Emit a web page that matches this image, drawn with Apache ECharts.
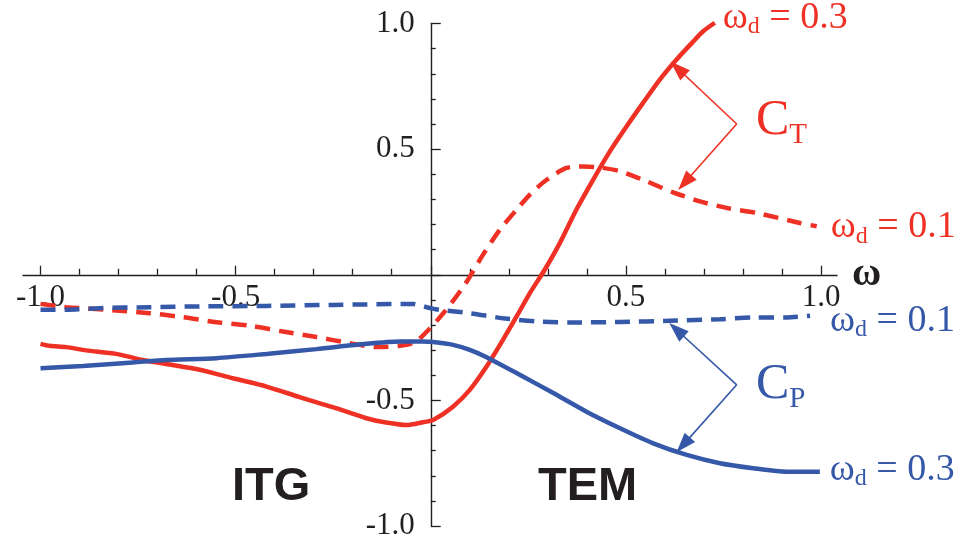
<!DOCTYPE html>
<html>
<head>
<meta charset="utf-8">
<script src="https://cdn.jsdelivr.net/npm/echarts@6/dist/echarts.min.js"></script>
<style>html,body{margin:0;padding:0;background:#fff}#c{width:969px;height:550px}</style>
</head>
<body>
<div id="c"></div>
<script>
// C_T, omega_d = 0.3 (solid red)
const ctHigh = [[-1.0,-0.275],[-0.977,-0.283],[-0.934,-0.288],[-0.883,-0.301],[-0.806,-0.315],[-0.738,-0.339],[-0.678,-0.355],[-0.592,-0.378],[-0.507,-0.412],[-0.421,-0.445],[-0.336,-0.487],[-0.251,-0.527],[-0.165,-0.571],[-0.114,-0.588],[-0.062,-0.598],[-0.02,-0.587],[0.006,-0.578],[0.057,-0.525],[0.1,-0.458],[0.143,-0.365],[0.185,-0.259],[0.22,-0.166],[0.254,-0.073],[0.292,0.02],[0.331,0.127],[0.373,0.259],[0.416,0.378],[0.459,0.491],[0.502,0.591],[0.544,0.684],[0.587,0.777],[0.63,0.857],[0.673,0.929],[0.698,0.969],[0.728,1.003]];
// C_T, omega_d = 0.1 (dashed red)
const ctLow = [[-1.0,-0.116],[-0.934,-0.129],[-0.806,-0.142],[-0.721,-0.153],[-0.635,-0.169],[-0.549,-0.189],[-0.464,-0.203],[-0.379,-0.226],[-0.293,-0.248],[-0.208,-0.272],[-0.139,-0.288],[-0.079,-0.283],[-0.04,-0.268],[-0.003,-0.215],[0.036,-0.146],[0.087,-0.04],[0.134,0.08],[0.177,0.179],[0.22,0.259],[0.254,0.319],[0.297,0.378],[0.348,0.425],[0.391,0.431],[0.433,0.427],[0.485,0.412],[0.553,0.372],[0.621,0.328],[0.69,0.292],[0.758,0.266],[0.835,0.246],[0.946,0.206],[0.989,0.193]];
// C_P, omega_d = 0.1 (dashed blue)
const cpLow = [[-1.0,-0.139],[-0.934,-0.139],[-0.849,-0.133],[-0.721,-0.129],[-0.592,-0.126],[-0.421,-0.124],[-0.251,-0.12],[-0.165,-0.118],[-0.045,-0.116],[-0.028,-0.122],[0.005,-0.135],[0.023,-0.14],[0.1,-0.153],[0.185,-0.173],[0.271,-0.186],[0.356,-0.19],[0.485,-0.188],[0.613,-0.183],[0.741,-0.177],[0.826,-0.17],[0.912,-0.17],[0.972,-0.163]];
// C_P, omega_d = 0.3 (solid blue)
const cpHigh = [[-1.0,-0.372],[-0.891,-0.363],[-0.763,-0.349],[-0.678,-0.339],[-0.549,-0.332],[-0.421,-0.315],[-0.293,-0.296],[-0.165,-0.275],[-0.079,-0.266],[-0.02,-0.266],[0.006,-0.268],[0.057,-0.279],[0.1,-0.299],[0.143,-0.328],[0.228,-0.398],[0.314,-0.471],[0.399,-0.545],[0.485,-0.611],[0.57,-0.671],[0.656,-0.717],[0.741,-0.75],[0.826,-0.77],[0.912,-0.784],[0.997,-0.784]];
// annotation arrows (data coordinates): [vertex, tip]
const ctArrows = [[[0.784,0.600],[0.633,0.821]],[[0.784,0.600],[0.651,0.367]]];
const cpArrows = [[[0.784,-0.438],[0.630,-0.219]],[[0.784,-0.438],[0.647,-0.677]]];
const seriesLabels = ['0.3','0.1','0.1','0.3'];
const xRange = [-1, 1];
const yRange = [-1, 1];
const xTickInterval = 0.5;
const yTickInterval = 0.5;

const RED = '#EE3124', BLUE = '#3558A8', INK = '#231F20';
const SERIF = '"Liberation Serif", "Times New Roman", serif';

function omegaRich(color) {
  return {
    w: {fontFamily: SERIF, fontSize: 38, color: color, lineHeight: 40, verticalAlign: 'top'},
    d: {fontFamily: SERIF, fontSize: 24, color: color, lineHeight: 22, verticalAlign: 'bottom'},
    t: {fontFamily: SERIF, fontSize: 38, color: color, lineHeight: 40, verticalAlign: 'top'}
  };
}
function endLabel(color, val, offset) {
  return {
    show: true,
    formatter: '{w|ω}{d|d}{t| = ' + val + '}',
    rich: omegaRich(color),
    distance: offset[0],
    offset: [0, offset[1]]
  };
}
function arrowLines(arr, color) {
  return {
    silent: true,
    symbol: ['none', 'triangle'],
    symbolSize: [14, 20],
    label: {show: false},
    lineStyle: {color: color, width: 1.6, type: 'solid'},
    emphasis: {disabled: true},
    data: arr.map(a => [{coord: a[0]}, {coord: a[1]}])
  };
}

const chart = echarts.init(document.getElementById('c'), null, {renderer: 'canvas'});
const fmt = v => (Math.abs(v) < 1e-9 ? '' : v.toFixed(1));
const hiddenAxis = (gi, range) => ({type: 'value', gridIndex: gi, min: range[0], max: range[1], show: false,
  axisLine: {show: false}, axisTick: {show: false}, axisLabel: {show: false}, splitLine: {show: false}});

chart.setOption({
  animation: false,
  backgroundColor: '#fff',
  grid: [
    // 0: data area
    {left: 40.5, right: 148, top: 23.5, bottom: 24, containLabel: false, outerBoundsMode: 'none'},
    // 1: x ticks + labels (grid bottom edge = the y = 0 line)
    {left: 40.5, right: 148, top: 23.5, bottom: 275.25, containLabel: false, outerBoundsMode: 'none'},
    // 2: x axis line (extends past the tick range) + name
    {left: 23, right: 132, top: 23.5, bottom: 275.25, containLabel: false, outerBoundsMode: 'none'},
    // 3: y axis (grid left edge = the x = 0 line)
    {left: 430.75, right: 100, top: 23.5, bottom: 24, containLabel: false, outerBoundsMode: 'none'}
  ],
  xAxis: [
    hiddenAxis(0, xRange),
    {
      type: 'value', gridIndex: 1, position: 'bottom', min: xRange[0], max: xRange[1], interval: xTickInterval,
      axisLine: {show: false, onZero: false},
      axisTick: {show: true, inside: true, length: 9, lineStyle: {color: INK, width: 1.3}},
      minorTick: {show: true, splitNumber: 5, length: 6, lineStyle: {color: INK, width: 1.3}},
      splitLine: {show: false}, minorSplitLine: {show: false},
      axisLabel: {show: true, margin: 8, formatter: fmt, fontFamily: SERIF, fontSize: 31, color: INK, showMinLabel: true, showMaxLabel: true}
    },
    {
      type: 'value', gridIndex: 2, position: 'bottom', min: -1.046, max: 1.041,
      axisLine: {show: true, onZero: false, lineStyle: {color: INK, width: 1.4}},
      axisTick: {show: false}, axisLabel: {show: false}, splitLine: {show: false},
      name: 'ω', nameLocation: 'end', nameGap: 15,
      nameTextStyle: {fontFamily: SERIF, fontWeight: 'bold', fontSize: 40, color: INK, verticalAlign: 'middle', padding: [24, 0, 0, 0]}
    },
    hiddenAxis(3, [0, 1])
  ],
  yAxis: [
    hiddenAxis(0, yRange),
    hiddenAxis(1, [0, 1]),
    hiddenAxis(2, [0, 1]),
    {
      type: 'value', gridIndex: 3, position: 'left', min: yRange[0], max: yRange[1], interval: yTickInterval,
      axisLine: {show: true, onZero: false, lineStyle: {color: INK, width: 1.4}},
      axisTick: {show: true, inside: true, length: 10, lineStyle: {color: INK, width: 1.3}},
      minorTick: {show: true, splitNumber: 5, length: 5, lineStyle: {color: INK, width: 1.3}},
      splitLine: {show: false}, minorSplitLine: {show: false},
      axisLabel: {show: true, margin: 16, formatter: fmt, fontFamily: SERIF, fontSize: 31, color: INK, padding: [9, 0, 0, 0], showMinLabel: true, showMaxLabel: true}
    }
  ],
  series: [
    {
      name: 'CT wd=0.3', type: 'line', xAxisIndex: 0, yAxisIndex: 0, data: ctHigh,
      smooth: 0.25, showSymbol: false, clip: false,
      lineStyle: {color: RED, width: 4.5},
      endLabel: endLabel(RED, seriesLabels[0], [8, -4]),
      markLine: arrowLines(ctArrows, RED)
    },
    {
      name: 'CT wd=0.1', type: 'line', xAxisIndex: 0, yAxisIndex: 0, data: ctLow,
      smooth: 0.25, showSymbol: false, clip: false,
      lineStyle: {color: RED, width: 4.5, type: [15, 9]},
      endLabel: endLabel(RED, seriesLabels[1], [14, 2])
    },
    {
      name: 'CP wd=0.1', type: 'line', xAxisIndex: 0, yAxisIndex: 0, data: cpLow,
      smooth: 0.25, showSymbol: false, clip: false,
      lineStyle: {color: BLUE, width: 4.5, type: [15, 9]},
      endLabel: endLabel(BLUE, seriesLabels[2], [20, 6]),
      markLine: arrowLines(cpArrows, BLUE)
    },
    {
      name: 'CP wd=0.3', type: 'line', xAxisIndex: 0, yAxisIndex: 0, data: cpHigh,
      smooth: 0.25, showSymbol: false, clip: false,
      lineStyle: {color: BLUE, width: 4.5},
      endLabel: endLabel(BLUE, seriesLabels[3], [10, -1])
    }
  ],
  graphic: [
    {type: 'text', left: 756, top: 96, silent: true,
      style: {text: '{c|C}{s|T}', rich: {
        c: {fontFamily: SERIF, fontSize: 50, fill: RED, color: RED, lineHeight: 54, verticalAlign: 'top'},
        s: {fontFamily: SERIF, fontSize: 29, fill: RED, color: RED, lineHeight: 24, verticalAlign: 'bottom'}
      }}},
    {type: 'text', left: 756, top: 360, silent: true,
      style: {text: '{c|C}{s|P}', rich: {
        c: {fontFamily: SERIF, fontSize: 50, fill: BLUE, color: BLUE, lineHeight: 54, verticalAlign: 'top'},
        s: {fontFamily: SERIF, fontSize: 29, fill: BLUE, color: BLUE, lineHeight: 24, verticalAlign: 'bottom'}
      }}},
    {type: 'text', left: 232, top: 464, silent: true,
      style: {text: 'ITG', fill: INK, font: 'bold 47px "Liberation Sans", Arial, sans-serif'}},
    {type: 'text', left: 538, top: 464, silent: true,
      style: {text: 'TEM', fill: INK, font: 'bold 47px "Liberation Sans", Arial, sans-serif'}}
  ]
});
</script>
</body>
</html>
